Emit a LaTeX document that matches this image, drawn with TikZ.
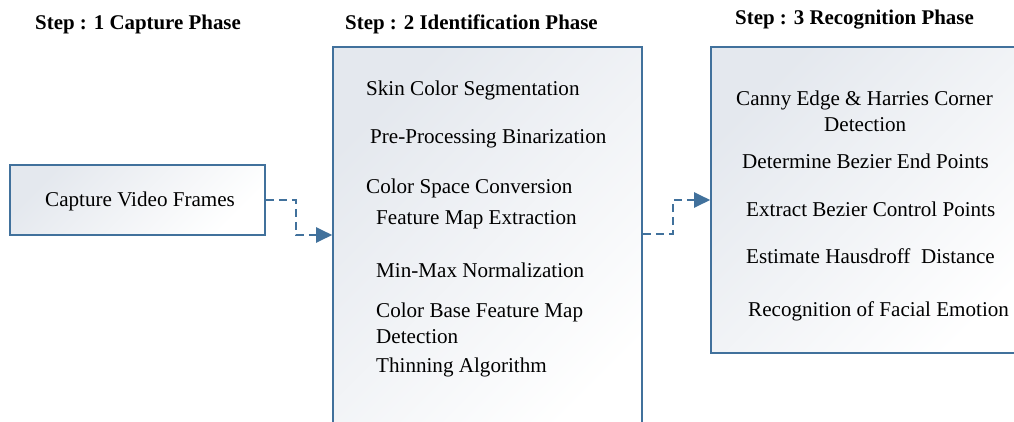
\documentclass[tikz,border=0pt]{standalone}
\usepackage{fontspec}
\setmainfont{Liberation Serif}
\usetikzlibrary{arrows.meta}
\definecolor{edge}{RGB}{65,113,156}
\definecolor{boxtop}{RGB}{228,232,238}
\tikzset{
  phasebox/.style={draw=edge, line width=1.6pt, top color=boxtop, bottom color=white,
    shading angle=45, inner sep=0pt},
  label/.style={anchor=base west, inner sep=0pt, font=\fontsize{21.1}{25}\selectfont},
  title/.style={anchor=base west, inner sep=0pt, font=\fontsize{20.9}{25}\selectfont\bfseries},
  conn/.style={draw=edge, line width=2.2pt, dash pattern=on 8pt off 5pt,
    -{Triangle[length=16pt,width=15pt]}},
}
\begin{document}
\begin{tikzpicture}[x=1pt,y=-1pt]
\useasboundingbox (0,0) rectangle (1014,421);
\clip (0,0) rectangle (1014,421);

% phase titles
\node[title] (h1) at (35,29) {Step : 1 Capture Phase};
\node[title] (h2) at (345,29) {Step : 2 Identification Phase};
\node[title] (h3) at (735,24) {Step : 3 Recognition Phase};

% phase boxes
\node[phasebox, minimum width=255pt, minimum height=70pt] (b1) at (137.5,200) {};
\node[phasebox, minimum width=309pt, minimum height=400pt] (b2) at (487.5,247) {};
\node[phasebox, minimum width=330pt, minimum height=306pt] (b3) at (876,200) {};

% capture phase
\node[label] (c1) at (45,206) {Capture Video Frames};

% identification phase
\node[label] (i1) at (366,95)  {Skin Color Segmentation};
\node[label] (i2) at (370,143) {Pre-Processing Binarization};
\node[label] (i3) at (366,193) {Color Space Conversion};
\node[label] (i4) at (376,224) {Feature Map Extraction};
\node[label] (i5) at (376,277) {Min-Max Normalization};
\node[label] (i6) at (376,317) {Color Base Feature Map};
\node[label] (i7) at (376,343) {Detection};
\node[label] (i8) at (376,372) {Thinning Algorithm};

% recognition phase
\node[label] (r1) at (736,105) {Canny Edge \& Harries Corner};
\node[label] (r2) at (824,131) {Detection};
\node[label] (r3) at (742,168) {Determine Bezier End Points};
\node[label] (r4) at (746,216) {Extract Bezier Control Points};
\node[label] (r5) at (746,263) {Estimate Hausdroff\ \ Distance};
\node[label] (r6) at (748,316) {Recognition of Facial Emotion};

% connectors
\coordinate (j1) at (296,235);
\coordinate (j2) at (673,234);
\draw[conn] (b1.east) -| (j1) -- (j1 -| b2.west);
\draw[conn] (j2 -| b2.east) -- (j2) |- (b3.west);
\end{tikzpicture}
\end{document}
